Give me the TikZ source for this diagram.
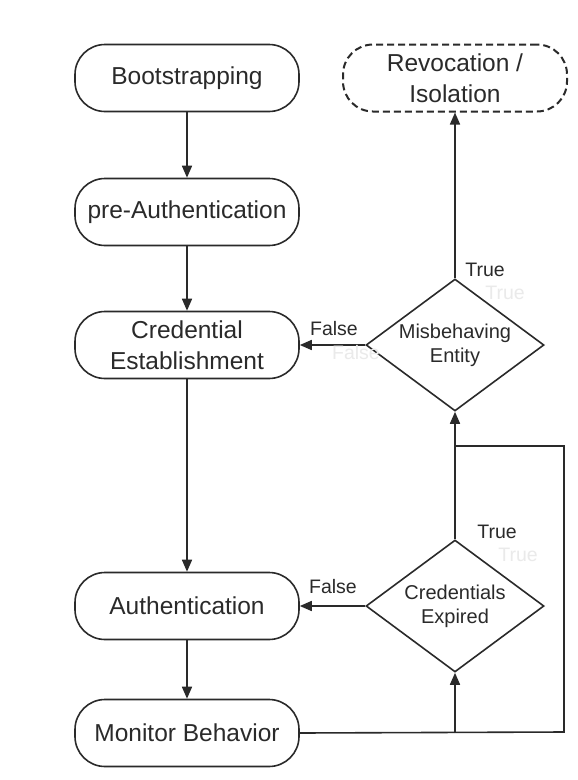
\documentclass[tikz,border=0pt]{standalone}
\usepackage{fontspec}
\setmainfont{Liberation Sans}
\usetikzlibrary{arrows.meta,shapes.geometric}
\definecolor{ink}{HTML}{2A2A2A}
\definecolor{ghost}{HTML}{EAEAEA}
\begin{document}
\begin{tikzpicture}[x=1pt,y=-1pt,
  stadium/.style={draw=ink, line width=1.6pt, rounded corners=30pt,
    minimum width=224pt, minimum height=67pt, inner sep=0pt, align=center,
    font=\fontsize{24.5}{31}\selectfont, text=ink},
  decision/.style={draw=ink, line width=1.6pt, diamond, aspect=1.35, inner sep=0pt,
    minimum width=178pt, minimum height=132pt, align=center,
    font=\fontsize{20}{24}\selectfont, text=ink},
  flow/.style={draw=ink, line width=1.6pt, -{Triangle[length=12pt,width=10pt]}},
  wire/.style={draw=ink, line width=1.6pt},
  lbl/.style={font=\fontsize{19.5}{21}\selectfont, text=ink, inner sep=0pt},
  faint/.style={font=\fontsize{19.5}{21}\selectfont, text=ghost, inner sep=0pt}]
\useasboundingbox (0,0) rectangle (578,780);
\fill[white] (0,0) rectangle (578,780);

% process steps
\node[stadium] (boot) at (187,78) {Bootstrapping};
\node[stadium] (pre)  at (187,212) {pre-Authentication};
\node[stadium] (cred) at (187,345) {Credential\\Establishment};
\node[stadium] (auth) at (187,606) {Authentication};
\node[stadium] (mon)  at (187,733) {Monitor Behavior};
\node[stadium, line width=2pt, dash pattern=on 7pt off 4pt] (rev) at (455,78) {Revocation /\\Isolation};

% decisions
\node[decision] (mis) at (455,345) {Misbehaving\\Entity};
\node[decision] (exp) at (455,606) {Credentials\\Expired};

% main sequence
\draw[flow] (boot) -- (pre);
\draw[flow] (pre) -- (cred);
\draw[flow] (cred) -- (auth);
\draw[flow] (auth) -- (mon);

% decision outcomes
\draw[flow] (mis) -- (rev);
\draw[flow] (mis) -- (cred);
\draw[flow] (exp) -- (auth);
\draw[flow] (exp) -- (mis);

% feedback from monitoring
\coordinate (rb) at (564,732);
\coordinate (rt) at (564,446);
\draw[wire] (mon.east) -- (rb) -- (rt) -- (rt -| mis.south);
\draw[flow] (mon.east -| exp.south) -- (exp.south);

% branch labels
\node[lbl] (t1) at (485,270) {True};
\node[lbl] (f1) at (334,329) {False};
\node[lbl] (t2) at (497,532) {True};
\node[lbl] (f2) at (333,587) {False};
\node[faint] (g1) at (505,293) {True};
\node[faint] (g2) at (356,353) {False};
\node[faint] (g3) at (518,555) {True};
\end{tikzpicture}
\end{document}
